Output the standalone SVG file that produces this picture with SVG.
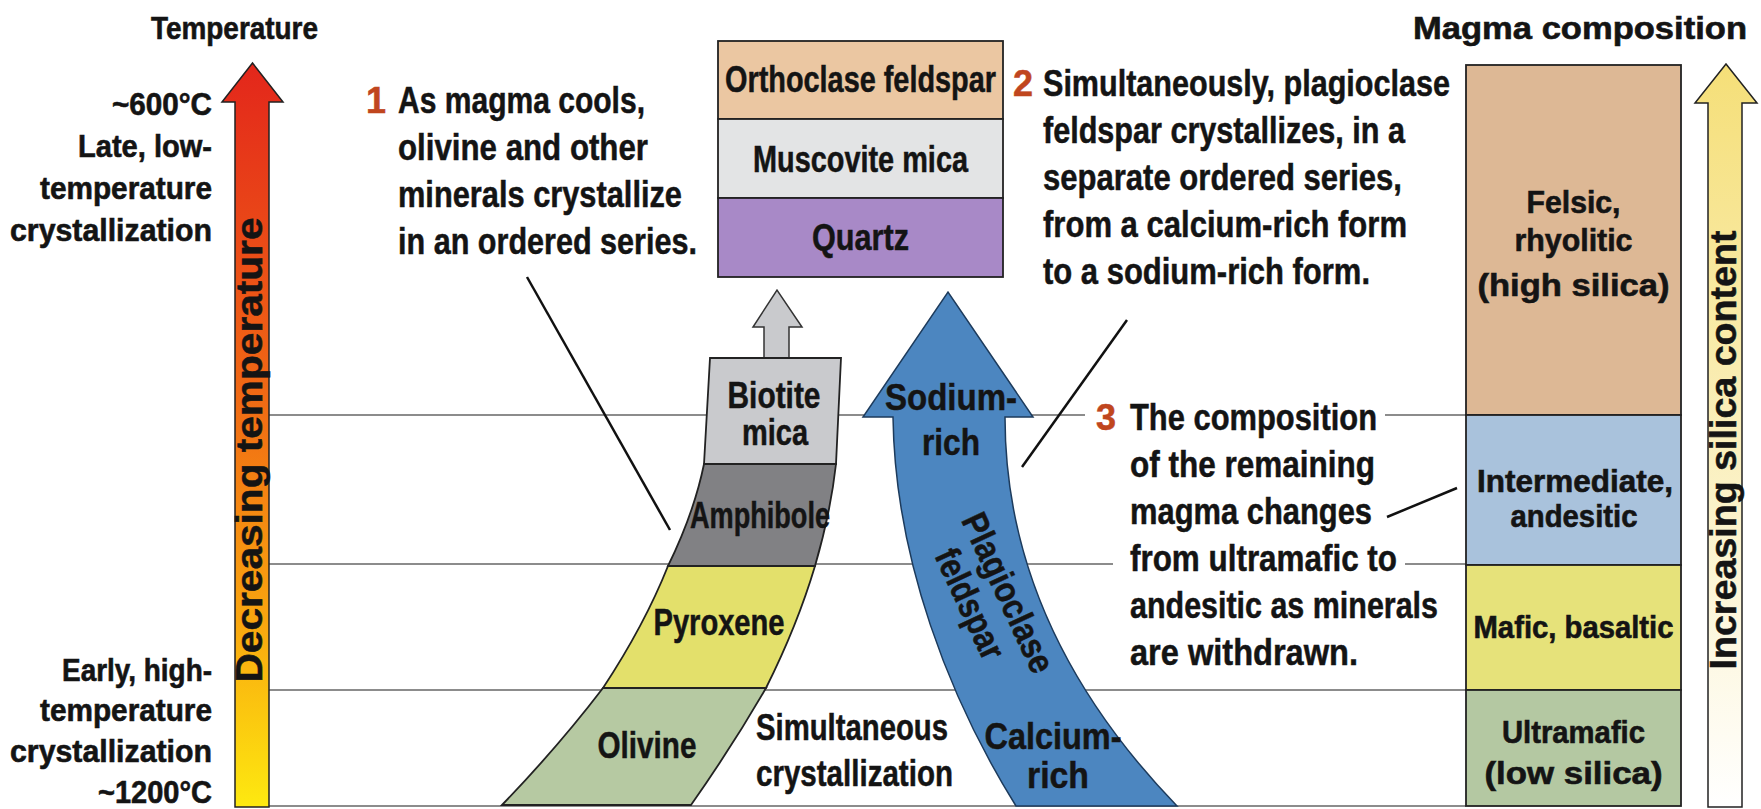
<svg xmlns="http://www.w3.org/2000/svg" width="1761" height="809" viewBox="0 0 1761 809">
<defs>
<linearGradient id="gTemp" x1="0" y1="0" x2="0" y2="1">
<stop offset="0" stop-color="#e3261b"/>
<stop offset="0.45" stop-color="#f06a14"/>
<stop offset="0.75" stop-color="#f9a60f"/>
<stop offset="1" stop-color="#fde910"/>
</linearGradient>
<linearGradient id="gSil" x1="0" y1="0" x2="0" y2="1">
<stop offset="0" stop-color="#f5df78"/>
<stop offset="1" stop-color="#ffffff"/>
</linearGradient>
</defs>
<style>
.n{font-family:'Liberation Sans',Arial,sans-serif;font-weight:bold;font-size:36px;fill:#141414;stroke:#141414;stroke-width:0.5}
.w{font-family:'Liberation Sans',Arial,sans-serif;font-weight:bold;font-size:31px;fill:#141414;stroke:#141414;stroke-width:0.6}
.c{text-anchor:middle}
.e{text-anchor:end}
.num{fill:#c0461e;stroke:#c0461e}
.grid{stroke:#8c8c8c;stroke-width:2;fill:none}
.lead{stroke:#111;stroke-width:2.5;fill:none}
.box{stroke:#222;stroke-width:1.8}
</style>
<rect width="1761" height="809" fill="#fff"/>

<g id="guide-lines">
<line class="grid" x1="269" y1="415" x2="1085" y2="415"/>
<line class="grid" x1="1385" y1="415" x2="1466" y2="415"/>
<line class="grid" x1="269" y1="564" x2="1113" y2="564"/>
<line class="grid" x1="1405" y1="564" x2="1466" y2="564"/>
<line class="grid" x1="269" y1="690" x2="1466" y2="690"/>
<line class="grid" x1="269" y1="806" x2="1466" y2="806"/>
</g>

<g id="titles">
<text class="w" x="151" y="39" font-size="33" stroke-width="0.9" textLength="167" lengthAdjust="spacingAndGlyphs">Temperature</text>
<text class="w" x="1413" y="39" font-size="33" stroke-width="0.9" textLength="334" lengthAdjust="spacingAndGlyphs">Magma composition</text>
</g>

<g id="temperature-labels">
<text class="w e" x="212" y="115" font-size="33" textLength="100" lengthAdjust="spacingAndGlyphs">~600°C</text>
<text class="w e" x="212" y="157" font-size="33" textLength="134" lengthAdjust="spacingAndGlyphs">Late, low-</text>
<text class="w e" x="212" y="199" font-size="33" textLength="172" lengthAdjust="spacingAndGlyphs">temperature</text>
<text class="w e" x="212" y="241" font-size="33" textLength="202" lengthAdjust="spacingAndGlyphs">crystallization</text>
<text class="w e" x="212" y="681" font-size="33" textLength="150" lengthAdjust="spacingAndGlyphs">Early, high-</text>
<text class="w e" x="212" y="721" font-size="33" textLength="172" lengthAdjust="spacingAndGlyphs">temperature</text>
<text class="w e" x="212" y="762" font-size="33" textLength="202" lengthAdjust="spacingAndGlyphs">crystallization</text>
<text class="w e" x="212" y="803" font-size="33" textLength="114" lengthAdjust="spacingAndGlyphs">~1200°C</text>
</g>

<g id="temperature-arrow">
<path d="M235,807 L235,102 L222,102 L252.5,63 L283,102 L269,102 L269,807 Z" fill="url(#gTemp)" stroke="#222" stroke-width="1.5"/>
<text class="n c" font-size="33" transform="translate(262,450) rotate(-90)" textLength="465" lengthAdjust="spacingAndGlyphs">Decreasing temperature</text>
</g>

<g id="connectors">
<path d="M764,358 L764,327 L753,327 L777,290 L802,327 L789,327 L789,358" fill="#c9cacd" stroke="#333" stroke-width="1.5"/>
<line class="lead" x1="527" y1="277" x2="670" y2="530"/>
<line class="lead" x1="1127" y1="320" x2="1022" y2="467"/>
<line class="lead" x1="1387" y1="517" x2="1457" y2="488"/>
</g>

<g id="orthoclase">
<rect class="box" x="718" y="41" width="285" height="78" fill="#ebc7a2"/>
<text class="n e" x="996" y="92" font-size="30" textLength="271" lengthAdjust="spacingAndGlyphs">Orthoclase feldspar</text>
</g>
<g id="muscovite">
<rect class="box" x="718" y="119" width="285" height="79" fill="#e3e4e5"/>
<text class="n c" x="860.5" y="172" textLength="215" lengthAdjust="spacingAndGlyphs">Muscovite mica</text>
</g>
<g id="quartz">
<rect class="box" x="718" y="198" width="285" height="79" fill="#a889c7"/>
<text class="n c" x="860.5" y="250" textLength="97" lengthAdjust="spacingAndGlyphs">Quartz</text>
</g>

<g id="biotite">
<path class="box" d="M710,358 L841,358 L836,464 L704,464 Z" fill="#c9cacd"/>
<text class="n c" x="774" y="408" textLength="93" lengthAdjust="spacingAndGlyphs">Biotite</text>
<text class="n c" x="775" y="445" textLength="66" lengthAdjust="spacingAndGlyphs">mica</text>
</g>
<g id="amphibole">
<path class="box" d="M704,464 L836,464 Q830.5,513 815,566 L668,566 Q694,513 704,464 Z" fill="#818184"/>
<text class="n c" x="760" y="528" font-size="34" textLength="140" lengthAdjust="spacingAndGlyphs">Amphibole</text>
</g>
<g id="pyroxene">
<path class="box" d="M668,566 L815,566 Q797.5,625 766,688 L603,688 Q644.5,625 668,566 Z" fill="#e3e06b"/>
<text class="n c" x="719" y="635" textLength="131" lengthAdjust="spacingAndGlyphs">Pyroxene</text>
</g>
<g id="olivine">
<path class="box" d="M603,688 L766,688 Q731.5,747.5 691,805 L502,805 Q557.5,747.5 603,688 Z" fill="#b6c9a2"/>
<text class="n c" x="647" y="758" textLength="99" lengthAdjust="spacingAndGlyphs">Olivine</text>
</g>

<g id="plagioclase">
<path d="M893,417 L863,417 L948,292 L1033,417 L1005,417 C1005,560 1065,690 1177,806 L1016,806 C950,700 895,560 893,417 Z" fill="#4c86c0" stroke="#1d3b5c" stroke-width="1.5"/>
<text class="n c" x="951" y="410" font-size="39" textLength="132" lengthAdjust="spacingAndGlyphs">Sodium-</text>
<text class="n c" x="951" y="455" font-size="39" textLength="58" lengthAdjust="spacingAndGlyphs">rich</text>
<text class="n c" transform="translate(997,598) rotate(65)" textLength="172" lengthAdjust="spacingAndGlyphs">Plagioclase</text>
<text class="n c" transform="translate(959,609) rotate(65)" textLength="118" lengthAdjust="spacingAndGlyphs">feldspar</text>
<text class="n c" x="1053" y="749" font-size="39" textLength="137" lengthAdjust="spacingAndGlyphs">Calcium-</text>
<text class="n c" x="1058" y="788" font-size="39" textLength="62" lengthAdjust="spacingAndGlyphs">rich</text>
</g>

<g id="simultaneous">
<text class="n" x="756" y="740" textLength="192" lengthAdjust="spacingAndGlyphs">Simultaneous</text>
<text class="n" x="756" y="786" textLength="197" lengthAdjust="spacingAndGlyphs">crystallization</text>
</g>

<g id="note1">
<text class="n num" x="366" y="113">1</text>
<text class="n" x="398" y="113" textLength="247" lengthAdjust="spacingAndGlyphs">As magma cools,</text>
<text class="n" x="398" y="160" textLength="250" lengthAdjust="spacingAndGlyphs">olivine and other</text>
<text class="n" x="398" y="207" textLength="284" lengthAdjust="spacingAndGlyphs">minerals crystallize</text>
<text class="n" x="398" y="254" textLength="299" lengthAdjust="spacingAndGlyphs">in an ordered series.</text>
</g>

<g id="note2">
<text class="n" y="96"><tspan class="num" x="1013">2</tspan><tspan x="1043" textLength="407" lengthAdjust="spacingAndGlyphs">Simultaneously, plagioclase</tspan></text>
<text class="n" x="1043" y="143" textLength="362" lengthAdjust="spacingAndGlyphs">feldspar crystallizes, in a</text>
<text class="n" x="1043" y="190" textLength="359" lengthAdjust="spacingAndGlyphs">separate ordered series,</text>
<text class="n" x="1043" y="237" textLength="364" lengthAdjust="spacingAndGlyphs">from a calcium-rich form</text>
<text class="n" x="1043" y="284" textLength="327" lengthAdjust="spacingAndGlyphs">to a sodium-rich form.</text>
</g>

<g id="note3">
<text class="n num" x="1096" y="430">3</text>
<text class="n" x="1130" y="430" textLength="247" lengthAdjust="spacingAndGlyphs">The composition</text>
<text class="n" x="1130" y="477" textLength="245" lengthAdjust="spacingAndGlyphs">of the remaining</text>
<text class="n" x="1130" y="524" textLength="242" lengthAdjust="spacingAndGlyphs">magma changes</text>
<text class="n" x="1130" y="571" textLength="267" lengthAdjust="spacingAndGlyphs">from ultramafic to</text>
<text class="n" x="1130" y="618" textLength="308" lengthAdjust="spacingAndGlyphs">andesitic as minerals</text>
<text class="n" x="1130" y="665" textLength="228" lengthAdjust="spacingAndGlyphs">are withdrawn.</text>
</g>

<g id="felsic">
<rect class="box" x="1466" y="65" width="215" height="350" fill="#ddb895"/>
<text class="w c" x="1573.5" y="213" textLength="94" lengthAdjust="spacingAndGlyphs">Felsic,</text>
<text class="w c" x="1573.5" y="251" textLength="118" lengthAdjust="spacingAndGlyphs">rhyolitic</text>
<text class="w c" x="1573.5" y="296" font-size="35" textLength="192" lengthAdjust="spacingAndGlyphs">(high silica)</text>
</g>
<g id="intermediate">
<rect class="box" x="1466" y="415" width="215" height="150" fill="#a9c2dc"/>
<text class="w c" x="1575" y="492" textLength="196" lengthAdjust="spacingAndGlyphs">Intermediate,</text>
<text class="w c" x="1574" y="527" textLength="127" lengthAdjust="spacingAndGlyphs">andesitic</text>
</g>
<g id="mafic">
<rect class="box" x="1466" y="565" width="215" height="125" fill="#e6e27a"/>
<text class="w c" x="1573.5" y="638" textLength="200" lengthAdjust="spacingAndGlyphs">Mafic, basaltic</text>
</g>
<g id="ultramafic">
<rect class="box" x="1466" y="690" width="215" height="116" fill="#b4c8a2"/>
<text class="w c" x="1573.5" y="743" textLength="143" lengthAdjust="spacingAndGlyphs">Ultramafic</text>
<text class="w c" x="1573.5" y="784" font-size="35" textLength="178" lengthAdjust="spacingAndGlyphs">(low silica)</text>
</g>

<g id="silica-arrow">
<path d="M1708,807 L1708,103 L1695,103 L1726,64 L1757,103 L1742,103 L1742,807 Z" fill="url(#gSil)" stroke="#222" stroke-width="1.5"/>
<text class="n c" font-size="31" transform="translate(1736,450) rotate(-90)" textLength="439" lengthAdjust="spacingAndGlyphs">Increasing silica content</text>
</g>
</svg>
